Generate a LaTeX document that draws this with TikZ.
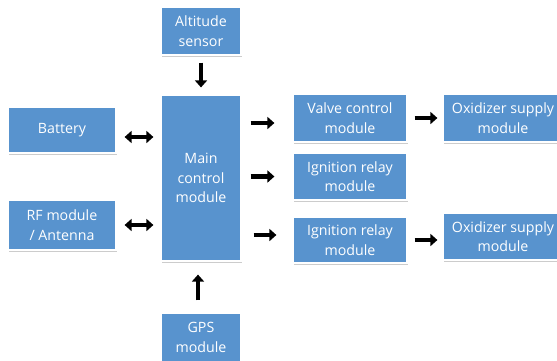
\documentclass[tikz,border=0pt]{standalone}
\usepackage{fontspec}
\setmainfont{Open Sans}
\usetikzlibrary{arrows.meta,shadows}
\definecolor{boxblue}{HTML}{5893CE}
\tikzset{
  blk/.style={rectangle, fill=boxblue, draw=white, line width=1.2pt,
    drop shadow={shadow xshift=1.2pt, shadow yshift=-1.5pt, opacity=0.4},
    text=white, align=center, inner sep=0pt,
    font=\fontsize{14.2}{19.5}\selectfont},
  arr/.style={line width=4.4pt, -{Triangle[length=7pt,width=12pt]}},
  darr/.style={line width=4.4pt, {Triangle[length=7pt,width=12pt]}-{Triangle[length=7pt,width=12pt]}}
}
\newcommand{\blkat}[6]{\node[blk, minimum width=#4pt-#2pt, minimum height=#5pt-#3pt] (#1) at ({(#2+#4)/2},{(#3+#5)/2}) {#6};}
\begin{document}
\begin{tikzpicture}[x=1pt,y=-1pt]
\useasboundingbox (0,0) rectangle (557,360);
\clip (0,0) rectangle (557,360);
\fill[white] (0,0) rectangle (557,360);
\blkat{alt}{161}{7}{241}{55}{Altitude\\sensor}
\blkat{bat}{8}{107}{116}{153}{Battery}
\blkat{main}{161}{95}{241}{261}{Main\\control\\module}
\blkat{rf}{8}{200}{116}{250}{RF module\\/ Antenna}
\blkat{gps}{161}{313}{241}{362}{GPS\\module}
\blkat{valve}{293}{94}{407}{142}{Valve control\\module}
\blkat{ign1}{293}{153}{407}{200}{Ignition relay\\module}
\blkat{ign2}{293}{217}{407}{263}{Ignition relay\\module}
\blkat{ox1}{443}{94}{563}{142}{Oxidizer supply\\module}
\blkat{ox2}{443}{213}{563}{260}{Oxidizer supply\\module}
% connectors
\draw[arr, shorten <=7pt, shorten >=7pt] (alt.south) -- (main.north);
\draw[darr, shorten <=8pt, shorten >=7pt] ([yshift=-7pt]bat.east) -- ([yshift=-7pt]bat.east -| main.west);
\draw[darr, shorten <=8pt, shorten >=7pt] (rf.east) -- (rf.east -| main.west);
\draw[arr, shorten <=12pt, shorten >=13pt] ([xshift=-3pt]gps.north) -- ([xshift=-3pt]main.south);
\draw[arr, shorten <=9pt, shorten >=18pt] ([yshift=-5pt]valve.west -| main.east) -- ([yshift=-5pt]valve.west);
\draw[arr, shorten <=9pt, shorten >=18pt] (ign1.west -| main.east) -- (ign1.west);
\draw[arr, shorten <=12pt, shorten >=16pt] ([yshift=5pt]ign2.west -| main.east) -- ([yshift=5pt]ign2.west);
\draw[arr, shorten <=7pt, shorten >=5pt] (valve.east) -- (valve.east -| ox1.west);
\draw[arr, shorten <=7pt, shorten >=5pt] (ign2.east) -- (ign2.east -| ox2.west);
\end{tikzpicture}
\end{document}
